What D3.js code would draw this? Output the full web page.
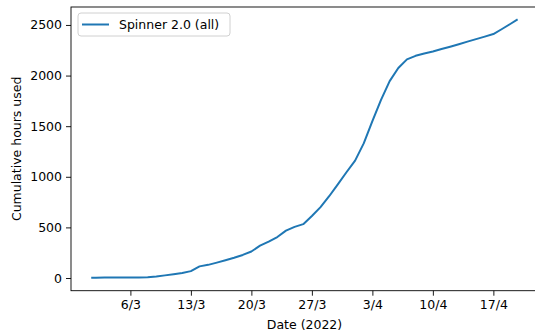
<!DOCTYPE html>
<html>
<head>
<meta charset="utf-8">
<script src="https://cdn.jsdelivr.net/npm/d3@7"></script>
<style>
  html, body { margin: 0; padding: 0; background: #fff; }
  svg { display: block; font-family: "DejaVu Sans", sans-serif; }
</style>
</head>
<body>
<svg id="chart" width="535" height="331"></svg>
<script>
// cumulative usage
var dates = [
    "2022-03-01T14:00", "2022-03-02", "2022-03-03", "2022-03-04", "2022-03-05",
    "2022-03-06", "2022-03-07", "2022-03-08", "2022-03-09", "2022-03-10",
    "2022-03-11", "2022-03-12", "2022-03-13", "2022-03-14", "2022-03-15",
    "2022-03-16", "2022-03-17", "2022-03-18", "2022-03-19", "2022-03-20",
    "2022-03-21", "2022-03-22", "2022-03-23", "2022-03-24", "2022-03-25",
    "2022-03-26", "2022-03-27", "2022-03-28", "2022-03-29", "2022-03-30",
    "2022-03-31", "2022-04-01", "2022-04-02", "2022-04-03", "2022-04-04",
    "2022-04-05", "2022-04-06", "2022-04-07", "2022-04-08", "2022-04-09",
    "2022-04-10", "2022-04-11", "2022-04-12", "2022-04-13", "2022-04-14",
    "2022-04-15", "2022-04-16", "2022-04-17", "2022-04-18", "2022-04-19",
    "2022-04-19T17:00"
];
var hours = [
    2, 3, 4, 5, 5,
    6, 6, 7, 15, 26,
    38, 50, 68, 115, 130,
    152, 175, 200, 228, 262,
    320, 360, 405, 468, 505,
    532, 612, 700, 808, 925,
    1045, 1160, 1330, 1550, 1760,
    1945, 2075, 2160, 2195, 2218,
    2238, 2262, 2285, 2310, 2335,
    2360, 2385, 2410, 2460, 2512,
    2550
];
var tickDates = ["2022-03-06", "2022-03-13", "2022-03-20", "2022-03-27", "2022-04-03", "2022-04-10", "2022-04-17"];
var tickLabels = ["6/3", "13/3", "20/3", "27/3", "3/4", "10/4", "17/4"];
var yTicks = [0, 500, 1000, 1500, 2000, 2500];
var seriesName = "Spinner 2.0 (all)";

var parse = d3.isoParse;
var data = dates.map(function (d, i) { return { date: parse(d), value: hours[i] }; });

var svg = d3.select("#chart");
var plotL = 71, plotR = 538, plotT = 7, plotB = 290.7;

// matplotlib-like 5% margins
var tExt = d3.extent(data, function (d) { return +d.date; });
var tPad = (tExt[1] - tExt[0]) * 0.05;
var x = d3.scaleTime()
    .domain([new Date(tExt[0] - tPad), new Date(tExt[1] + tPad)])
    .range([plotL, plotR]);

var vExt = d3.extent(hours);
var vPad = (vExt[1] - vExt[0]) * 0.05;
var y = d3.scaleLinear()
    .domain([vExt[0] - vPad, vExt[1] + vPad])
    .range([plotB, plotT]);

var line = d3.line()
    .x(function (d) { return x(d.date); })
    .y(function (d) { return y(d.value); });

svg.append("path")
    .datum(data)
    .attr("fill", "none")
    .attr("stroke", "#1f77b4")
    .attr("stroke-width", 2)
    .attr("stroke-linejoin", "round")
    .attr("stroke-linecap", "square")
    .attr("d", line);

// axes
var xAxis = d3.axisBottom(x)
    .tickValues(tickDates.map(parse))
    .tickFormat(function (d, i) { return tickLabels[i]; })
    .tickSize(5)
    .tickPadding(4);

var yAxis = d3.axisLeft(y)
    .tickValues(yTicks)
    .tickFormat(d3.format("d"))
    .tickSize(5)
    .tickPadding(4);

var gx = svg.append("g")
    .attr("transform", "translate(0," + plotB + ")")
    .call(xAxis);
var gy = svg.append("g")
    .attr("transform", "translate(" + plotL + ",0)")
    .call(yAxis);

[gx, gy].forEach(function (g) {
    g.select(".domain").remove();
    g.selectAll("text").attr("font-size", 12.5).attr("fill", "#000")
        .attr("font-family", "DejaVu Sans, sans-serif");
    g.selectAll("line").attr("stroke", "#000").attr("stroke-width", 0.9);
});

// frame
svg.append("rect")
    .attr("x", plotL)
    .attr("y", plotT)
    .attr("width", plotR - plotL)
    .attr("height", plotB - plotT)
    .attr("fill", "none")
    .attr("stroke", "#000")
    .attr("stroke-width", 0.9);

// axis titles
svg.append("text")
    .attr("x", (plotL + plotR) / 2)
    .attr("y", 329)
    .attr("text-anchor", "middle")
    .attr("font-size", 12.5)
    .text("Date (2022)");

svg.append("text")
    .attr("transform", "translate(21," + ((plotT + plotB) / 2) + ") rotate(-90)")
    .attr("text-anchor", "middle")
    .attr("font-size", 12.5)
    .text("Cumulative hours used");

// legend
var legend = svg.append("g").attr("transform", "translate(78,13)");
legend.append("rect")
    .attr("width", 152)
    .attr("height", 23)
    .attr("rx", 3)
    .attr("fill", "#fff")
    .attr("fill-opacity", 0.8)
    .attr("stroke", "#d0d0d0");
legend.append("line")
    .attr("x1", 4).attr("x2", 31)
    .attr("y1", 11.5).attr("y2", 11.5)
    .attr("stroke", "#1f77b4")
    .attr("stroke-width", 2);
legend.append("text")
    .attr("x", 41)
    .attr("y", 16)
    .attr("font-size", 12.5)
    .text(seriesName);
</script>
</body>
</html>
